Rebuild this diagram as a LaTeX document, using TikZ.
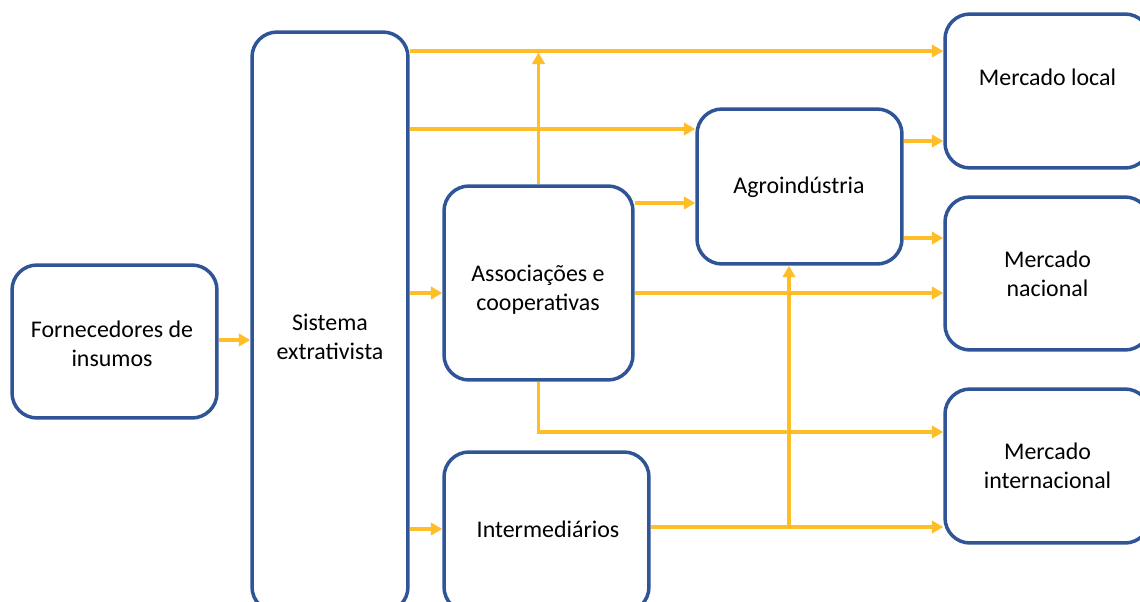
\documentclass[tikz,border=0pt]{standalone}
\usepackage{fontspec}
\setmainfont{Carlito}
\usetikzlibrary{arrows.meta}
\definecolor{boxblue}{RGB}{47,85,151}
\definecolor{flow}{RGB}{255,190,40}
\begin{document}
\begin{tikzpicture}[x=0.02cm,y=-0.02cm,
  box/.style={draw=boxblue, line width=2pt, rounded corners=0.5cm, rectangle, inner sep=0pt},
  lbl/.style={align=center, font=\fontsize{13.6}{16.4}\selectfont, inner sep=0pt},
  arr/.style={draw=flow, line width=2pt, -{Triangle[length=2.3mm,width=2.5mm]}},
  ln/.style={draw=flow, line width=2pt}]
\useasboundingbox (0,0) rectangle (1140,602);
% boxes
\node[box, minimum width=4.1cm, minimum height=3.06cm] (forn) at (114.5,341.5) {};
\node[box, minimum width=3.12cm, minimum height=11.6cm] (sist) at (330,322) {};
\node[box, minimum width=3.78cm, minimum height=3.88cm] (asso) at (538.5,283) {};
\node[box, minimum width=4.1cm, minimum height=3.2cm] (inter) at (546.5,532) {};
\node[box, minimum width=4.1cm, minimum height=3.1cm] (agro) at (799.5,186.5) {};
\node[box, minimum width=4.1cm, minimum height=3.08cm] (ml) at (1047.5,91) {};
\node[box, minimum width=4.1cm, minimum height=3.06cm] (mn) at (1047.5,273.5) {};
\node[box, minimum width=4.1cm, minimum height=3.08cm] (mi) at (1047.5,466) {};
% labels
\node[lbl] (fornT) at (112,344) {Fornecedores de\\insumos};
\node[lbl] (sistT) at (330,337) {Sistema\\extrativista};
\node[lbl] (assoT) at (538,290) {Associações e\\cooperativas};
\node[lbl] (interT) at (548,529) {Intermediários};
\node[lbl] (agroT) at (799,187) {Agroindústria};
\node[lbl] (mlT) at (1047.5,77) {Mercado local};
\node[lbl] (mnT) at (1047.5,274) {Mercado\\nacional};
\node[lbl] (miT) at (1047.5,466) {Mercado\\internacional};
% helper coordinates
\coordinate (j) at (789,527);
\coordinate (top) at (538.5,52.5);
% connectors
\draw[arr] (forn.east |- 0,340) -- (sist.west |- 0,340);
\draw[arr] (sist.east |- 0,51) -- (ml.west |- 0,51);
\draw[arr] (asso.north) -- (top);
\draw[arr] (sist.east |- 0,129) -- (agro.west |- 0,129);
\draw[arr] (asso.east |- 0,203) -- (agro.west |- 0,203);
\draw[arr] (sist.east |- 0,293) -- (asso.west |- 0,293);
\draw[arr] (asso.east |- 0,293) -- (mn.west |- 0,293);
\draw[arr] (asso.south) -- (asso.south |- 0,432) -- (mi.west |- 0,432);
\draw[arr] (sist.east |- 0,529) -- (inter.west |- 0,529);
\draw[ln] (inter.east |- 0,527) -- (j);
\draw[arr] (j) -- (mi.west |- j);
\draw[arr] (j) -- (agro.south -| j);
\draw[arr] (agro.east |- 0,141) -- (ml.west |- 0,141);
\draw[arr] (agro.east |- 0,238) -- (mn.west |- 0,238);
\end{tikzpicture}
\end{document}
